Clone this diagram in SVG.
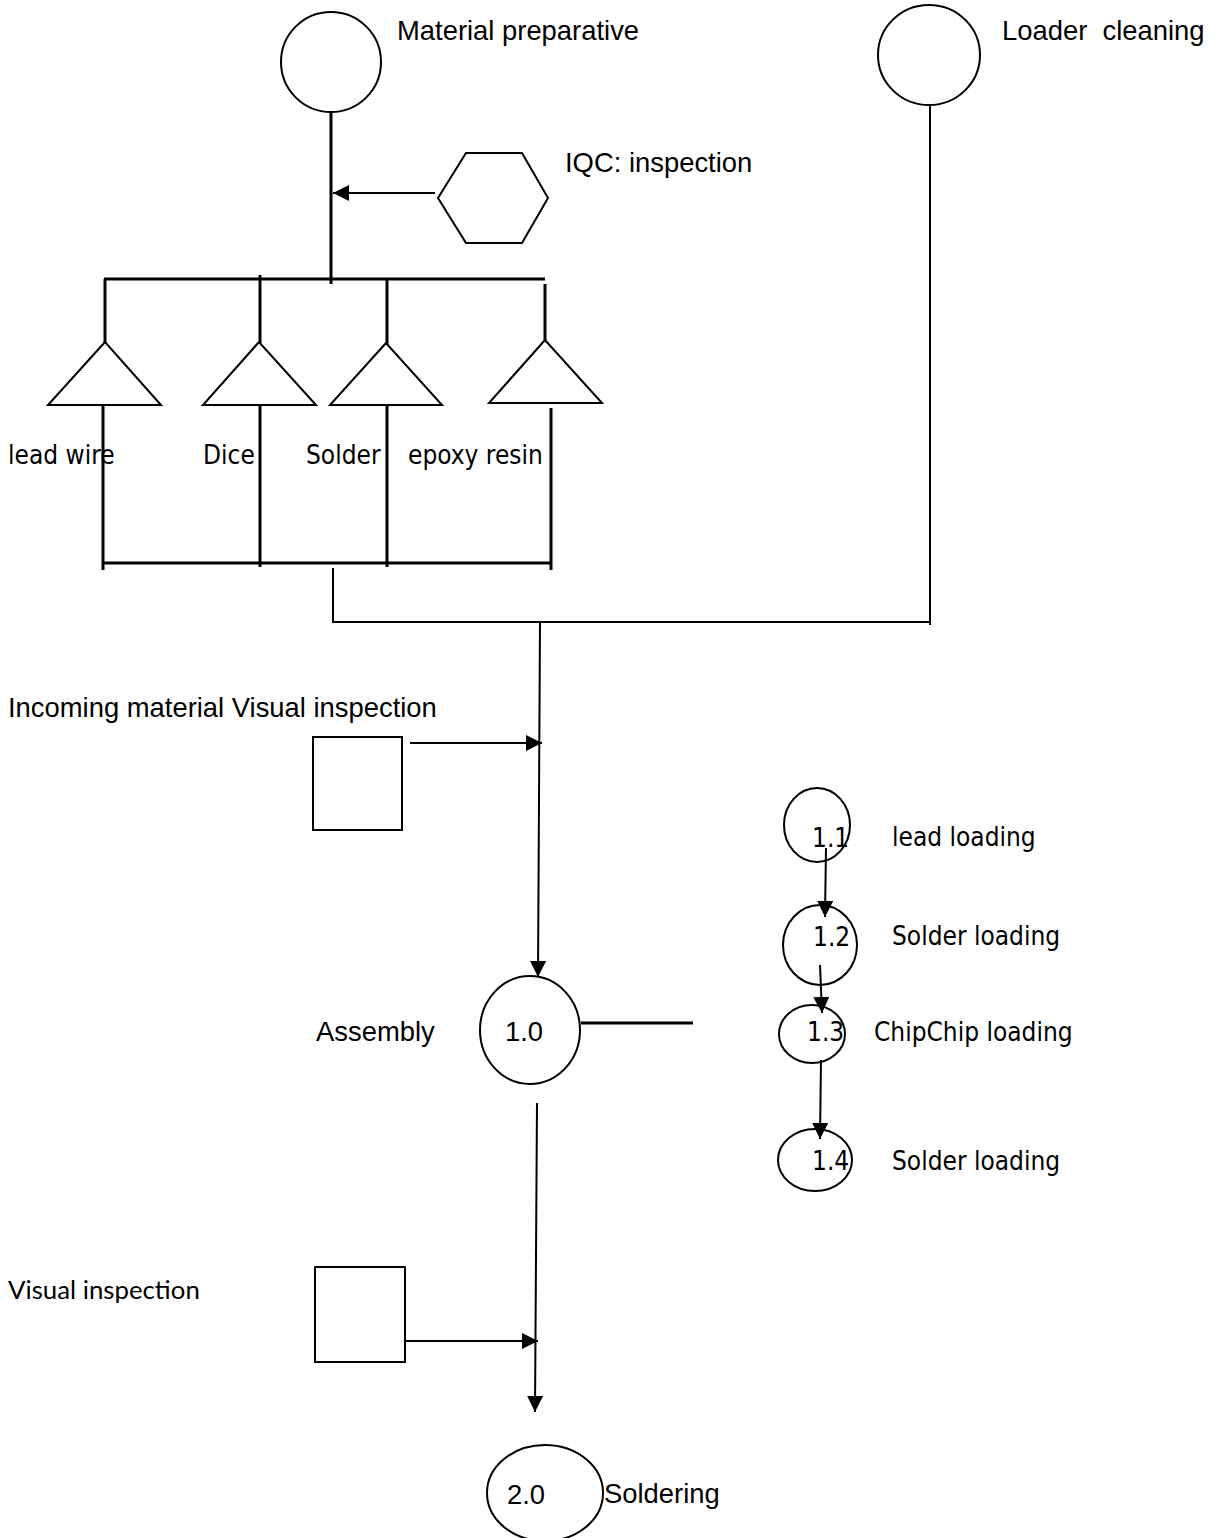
<svg xmlns="http://www.w3.org/2000/svg" width="1213" height="1538" viewBox="0 0 1213 1538">
<style>
.s{fill:none;stroke:#000;stroke-width:2}
.t{stroke:#000;stroke-width:3;fill:none}
.a{stroke:#000;stroke-width:2;fill:none}
.ar{font-family:"Liberation Sans",Arial,sans-serif;font-size:27.4px;fill:#000}
.th{font-family:"DejaVu Sans Condensed","DejaVu Sans",sans-serif;font-size:26px;fill:#000}
.ca{font-family:Lato,"Open Sans",sans-serif;font-size:25.8px;fill:#000}
</style>
<defs>
<marker id="ah" markerUnits="userSpaceOnUse" markerWidth="18" markerHeight="16" refX="16" refY="8" orient="auto">
<path d="M0,0 L16,8 L0,16 Z" fill="#000"/>
</marker>
</defs>
<rect width="1213" height="1538" fill="#fff"/>
<g id="connectors">
<line class="t" x1="331" y1="112" x2="331" y2="284"/>
<line class="a" x1="435" y1="193" x2="333" y2="193" marker-end="url(#ah)"/>
<line class="t" x1="104" y1="279" x2="545" y2="279"/>
<line class="t" x1="105" y1="279" x2="105" y2="343"/>
<line class="t" x1="260" y1="275" x2="260" y2="343"/>
<line class="t" x1="387" y1="279" x2="387" y2="345"/>
<line class="t" x1="545" y1="284" x2="545" y2="342"/>
<line class="t" x1="103" y1="405" x2="103" y2="570"/>
<line class="t" x1="260" y1="405" x2="260" y2="567"/>
<line class="t" x1="387" y1="405" x2="387" y2="567"/>
<line class="t" x1="551" y1="408" x2="551" y2="570"/>
<line class="t" x1="103" y1="563" x2="551" y2="563"/>
<line class="a" x1="333" y1="568" x2="333" y2="622"/>
<line class="a" x1="332" y1="622" x2="931" y2="622"/>
<line class="a" x1="930" y1="105" x2="930" y2="625"/>
<line class="a" x1="540" y1="622" x2="538" y2="977" marker-end="url(#ah)"/>
<line class="a" x1="410" y1="743" x2="542" y2="743" marker-end="url(#ah)"/>
<line class="t" x1="581" y1="1023" x2="693" y2="1023"/>
<line class="a" x1="537" y1="1103" x2="535" y2="1412" marker-end="url(#ah)"/>
<line class="a" x1="405" y1="1341" x2="538" y2="1341" marker-end="url(#ah)"/>
<line class="a" x1="826" y1="848" x2="825" y2="917" marker-end="url(#ah)"/>
<line class="a" x1="820" y1="965" x2="822" y2="1013" marker-end="url(#ah)"/>
<line class="a" x1="821" y1="1060" x2="820" y2="1139" marker-end="url(#ah)"/>
</g>
<g id="material-preparative">
<circle class="s" cx="331" cy="62" r="50"/>
<text class="ar" x="397" y="40">Material preparative</text>
</g>
<g id="loader-cleaning">
<ellipse class="s" cx="929" cy="55" rx="51" ry="50"/>
<text class="ar" x="1002" y="40" xml:space="preserve">Loader  cleaning</text>
</g>
<g id="iqc">
<polygon class="s" points="438,198 466,153 522,153 548,198 522,243 466,243"/>
<text class="ar" x="565" y="172">IQC: inspection</text>
</g>
<g id="lead-wire">
<polygon class="s" points="105,342 48,405 161,405"/>
<text class="th" x="8" y="464">lead wire</text>
</g>
<g id="dice">
<polygon class="s" points="259,342 203,405 316,405"/>
<text class="th" x="203" y="464">Dice</text>
</g>
<g id="solder">
<polygon class="s" points="386,343 330,405 442,405"/>
<text class="th" x="306" y="464">Solder</text>
</g>
<g id="epoxy-resin">
<polygon class="s" points="545,340 489,403 602,403"/>
<text class="th" x="408" y="464">epoxy resin</text>
</g>
<g id="incoming-inspection">
<rect class="s" x="313" y="737" width="89" height="93"/>
<text class="ar" x="8" y="717">Incoming material Visual inspection</text>
</g>
<g id="assembly">
<ellipse class="s" cx="530" cy="1030" rx="50" ry="54"/>
<text class="ar" x="505" y="1041">1.0</text>
<text class="ar" x="316" y="1041">Assembly</text>
</g>
<g id="lead-loading">
<ellipse class="s" cx="817" cy="825" rx="33" ry="37"/>
<text class="th" x="812" y="847">1.1</text>
<text class="th" x="892" y="846">lead loading</text>
</g>
<g id="solder-loading-1">
<ellipse class="s" cx="820" cy="945" rx="37" ry="40"/>
<text class="th" x="813" y="946">1.2</text>
<text class="th" x="892" y="945">Solder loading</text>
</g>
<g id="chip-loading">
<ellipse class="s" cx="812" cy="1034" rx="33" ry="29"/>
<text class="th" x="807" y="1041">1.3</text>
<text class="th" x="874" y="1041">ChipChip loading</text>
</g>
<g id="solder-loading-2">
<ellipse class="s" cx="815" cy="1160" rx="37" ry="31"/>
<text class="th" x="812" y="1170">1.4</text>
<text class="th" x="892" y="1170">Solder loading</text>
</g>
<g id="visual-inspection">
<rect class="s" x="315" y="1267" width="90" height="95"/>
<text class="ca" x="8" y="1299">Visual inspection</text>
</g>
<g id="soldering">
<ellipse class="s" cx="545" cy="1493" rx="58" ry="48"/>
<text class="ar" x="507" y="1504">2.0</text>
<text class="ar" x="604" y="1503">Soldering</text>
</g>
</svg>
